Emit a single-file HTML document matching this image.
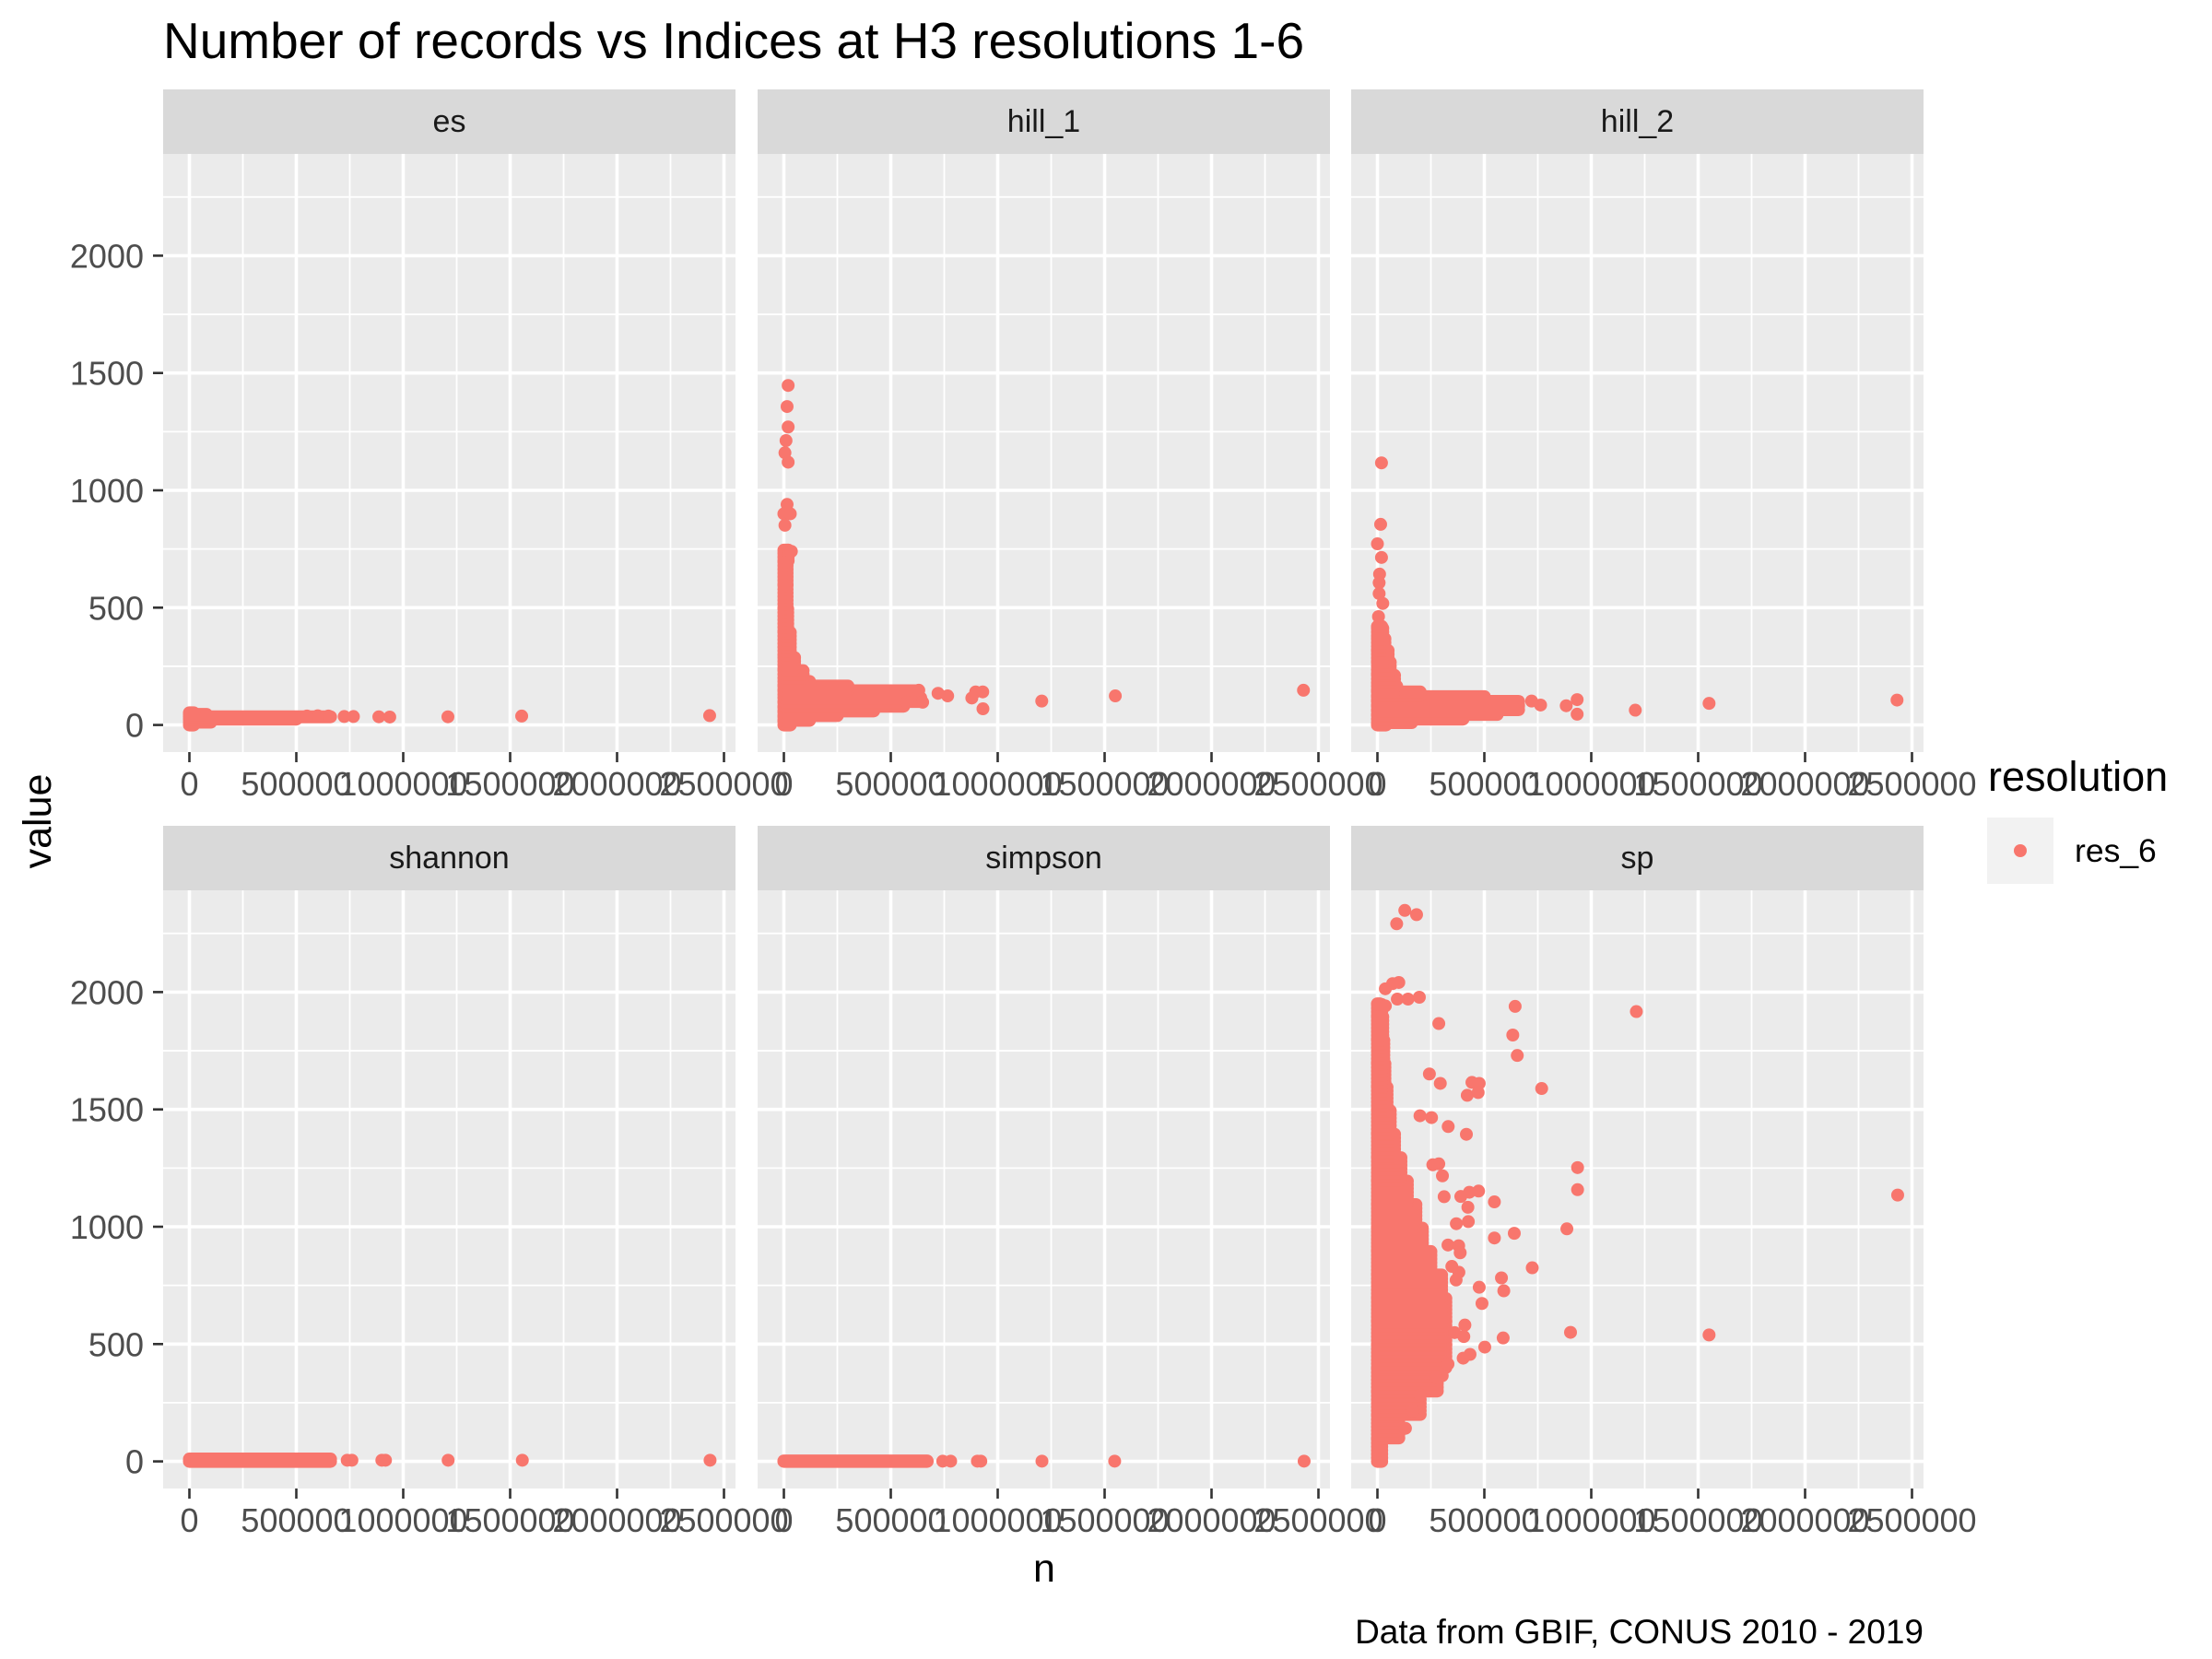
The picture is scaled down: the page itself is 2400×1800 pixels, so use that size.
<!DOCTYPE html>
<html><head><meta charset="utf-8"><style>
html,body{margin:0;padding:0;background:#fff}
svg{display:block}
text{font-family:"Liberation Sans",Arial,sans-serif}
</style></head><body>
<svg id="chart" width="2400" height="1800" viewBox="0 0 2400 1800" xmlns="http://www.w3.org/2000/svg">
<rect x="0" y="0" width="2400" height="1800" fill="#fff"/>
<text x="177" y="63" font-size="55" fill="#000">Number of records vs Indices at H3 resolutions 1-6</text>
<text transform="translate(55,891) rotate(-90)" text-anchor="middle" font-size="43" fill="#000">value</text>
<text x="1133" y="1716" text-anchor="middle" font-size="43" fill="#000">n</text>
<text x="2087" y="1783" text-anchor="end" font-size="37" fill="#000">Data from GBIF, CONUS 2010 - 2019</text>
<g>
<text x="2157" y="858" font-size="45" fill="#000">resolution</text>
<rect x="2156" y="887" width="72" height="72" fill="#f2f2f2"/>
<circle cx="2192" cy="923" r="7" fill="#f8766d"/>
<text x="2251" y="935" font-size="35.5" fill="#000">res_6</text>
</g>
<g id="panels"></g>
</svg>
<script>
// ---- data ----
const panelNames = ["es","hill_1","hill_2","shannon","simpson","sp"];
const xTicks = [0,500000,1000000,1500000,2000000,2500000];
const xTickLabels = ["0","500000","1000000","1500000","2000000","2500000"];
const yTicks = [0,500,1000,1500,2000];
const yTickLabels = ["0","500","1000","1500","2000"];
// dense bands: [value, minN, maxN]
const esRows = [[0,0,20000],[12,0,100000],[25,0,500000],[35,0,660000],[45,0,80000],[52,0,20000]];
const esPoints = [[724000,36],[767000,36],[886000,35],[937000,34],[1209000,35],[1554000,38],[2433000,40],[650000,38],[600000,39],[550000,38]];
const hill1Rows = [[0,0,30000],[20,0,120000],[40,0,250000],[60,0,420000],[80,0,560000],[100,0,640000],[130,0,620000],[150,0,300000],[170,0,120000],[200,0,90000],[240,0,50000],[300,0,30000],[400,0,18000],[500,0,15000],[600,0,15000],[700,0,20000],[745,0,20000]];
const hill1Points = [[20000,1447],[15000,1357],[20000,1270],[10000,1212],[5000,1160],[20000,1120],[15000,940],[0,900],[30000,900],[5000,851],[20000,745],[35000,740],[721000,135],[766000,124],[879000,115],[897000,141],[930000,141],[931000,69],[1206000,102],[1550000,124],[2430000,148],[631000,148],[649000,97],[576000,97]];
const hill2Rows = [[0,0,40000],[10,0,160000],[25,0,400000],[45,0,560000],[65,0,660000],[85,0,660000],[105,0,500000],[125,0,200000],[150,0,90000],[180,0,80000],[220,0,60000],[270,0,50000],[320,0,35000],[380,0,25000],[420,0,20000]];
const hill2Points = [[19000,1117],[15000,855],[0,772],[19000,714],[10000,643],[8000,606],[8000,560],[25000,518],[5000,462],[721000,102],[763000,85],[883000,82],[934000,108],[934000,46],[1206000,63],[1551000,92],[2430000,106]];
const shannonRows = [[0,0,660000],[10,0,660000]];
const shannonPoints = [[738000,5],[760000,5],[900000,5],[917000,5],[1210000,5],[1557000,5],[2435000,5]];
const simpsonRows = [[0,0,670000],[2,0,670000]];
const simpsonPoints = [[743000,1],[780000,1],[905000,1],[921000,1],[1207000,1],[1547000,1],[2433000,1]];
const spRows = [[0,0,20000],[100,0,100000],[200,0,200000],[300,0,280000],[400,0,320000],[500,0,320000],[600,0,320000],[700,0,300000],[800,0,250000],[900,0,210000],[1000,0,180000],[1100,0,140000],[1200,0,110000],[1300,0,80000],[1400,0,60000],[1500,0,45000],[1600,0,35000],[1700,0,30000],[1800,0,25000],[1900,0,20000],[1950,0,10000]];
const spPoints = [[2433000,1135],[1551000,539],[1211000,1917],[903000,550],[936000,1252],[936000,1158],[886000,991],[768000,1589],[724000,825],[644000,1939],[633000,1817],[654000,1730],[640000,972],[547000,952],[547000,1106],[588000,526],[591000,727],[580000,782],[489000,673],[476000,742],[502000,487],[401000,440],[433000,456],[294000,1611],[243000,1651],[287000,1866],[442000,1615],[476000,1611],[420000,1560],[471000,1572],[416000,1394],[331000,1427],[199000,1473],[253000,1465],[196000,1978],[143000,1970],[93000,1970],[128000,2348],[183000,2330],[90000,2291],[71000,2036],[100000,2041],[37000,2014],[4000,1948],[37000,1941],[287000,1268],[259000,1264],[304000,1217],[473000,1152],[430000,1147],[390000,1129],[312000,1128],[423000,1083],[425000,1022],[369000,1013],[330000,922],[380000,919],[387000,889],[348000,831],[381000,806],[368000,773],[409000,581],[404000,532],[361000,549],[330000,415],[303000,365],[275000,357],[200000,282],[165000,216],[131000,141]];
const panelRows = [esRows,hill1Rows,hill2Rows,shannonRows,simpsonRows,spRows];
const panelPoints = [esPoints,hill1Points,hill2Points,shannonPoints,simpsonPoints,spPoints];

// ---- layout ----
const NS = "http://www.w3.org/2000/svg";
const colX = [177,822,1466], PW = 621;
const rowTop = [167,966], PH = 649;
const COLOR = "#f8766d";
function mk(tag, attrs, parent){const e=document.createElementNS(NS,tag);for(const k in attrs)e.setAttribute(k,attrs[k]);parent.appendChild(e);return e;}
const root = document.getElementById("panels");
const defs = mk("defs",{},root);

panelNames.forEach((name,i)=>{
  const r = Math.floor(i/3), c = i%3;
  const L = colX[c], T = rowTop[r];
  const x0 = L + 28.5, y0 = T + PH - 29.4;
  const px = n => x0 + n/500000*116;
  const py = v => y0 - v/500*127.3;
  const g = mk("g",{},root);
  
  
  const strip = mk("rect",{x:L,y:T-70,width:PW,height:70,fill:"#d9d9d9"},g);
  
  
  const st = mk("text",{x:L+PW/2,y:T-24,"text-anchor":"middle","font-size":34,fill:"#1a1a1a"},g);
  st.textContent = name;
  
  
  const bg = mk("rect",{x:L,y:T,width:PW,height:PH,fill:"#ebebeb"},g);
  
  
  for(let v=250; v<2500; v+=500){const y=py(v); if(y>T&&y<T+PH) mk("line",{x1:L,x2:L+PW,y1:y,y2:y,stroke:"#fff","stroke-width":1.8},g);}
  for(let n=250000; n<2600000; n+=500000){const x=px(n); if(x>L&&x<L+PW) mk("line",{x1:x,x2:x,y1:T,y2:T+PH,stroke:"#fff","stroke-width":1.8},g);}
  yTicks.forEach(v=>{const y=py(v); mk("line",{x1:L,x2:L+PW,y1:y,y2:y,stroke:"#fff","stroke-width":3.6},g);});
  xTicks.forEach(n=>{const x=px(n); mk("line",{x1:x,x2:x,y1:T,y2:T+PH,stroke:"#fff","stroke-width":3.6},g);});
  const cp = mk("clipPath",{id:"clip"+i},defs);
  mk("rect",{x:L,y:T,width:PW,height:PH},cp);
  const marks = mk("g",{"clip-path":"url(#clip"+i+")"},g);
  
  
  const rows = panelRows[i];
  rows.forEach((row,k)=>{
    const yA = py(row[0]);
    const yB = k<rows.length-1 ? py(rows[k+1][0]) : yA;
    for(let y=yA; y>=yB-0.01; y-=4){
      const ln = mk("line",{x1:px(row[1]),x2:px(row[2]),y1:y,y2:y,stroke:COLOR,"stroke-width":14,"stroke-linecap":"round"},marks);
      
      
    }
  });
  panelPoints[i].forEach(p=>{
    const ci = mk("circle",{cx:px(p[0]),cy:py(p[1]),r:7,fill:COLOR},marks);
    
    
  });
  const ax = mk("g",{},g);
  
  
  xTicks.forEach((n,k)=>{
    const x=px(n);
    mk("line",{x1:x,x2:x,y1:T+PH,y2:T+PH+11,stroke:"#333","stroke-width":2.6},ax);
    const t = mk("text",{x:x,y:T+PH+47,"text-anchor":"middle","font-size":36,fill:"#4d4d4d"},ax);
    t.textContent = xTickLabels[k];
    
    
  });
  if(c===0){
    const ay = mk("g",{},g);
    
    
    yTicks.forEach((v,k)=>{
      const y=py(v);
      mk("line",{x1:L-11,x2:L,y1:y,y2:y,stroke:"#333","stroke-width":2.6},ay);
      const t = mk("text",{x:L-21,y:y+13,"text-anchor":"end","font-size":36,fill:"#4d4d4d"},ay);
      t.textContent = yTickLabels[k];
      
      
    });
  }
});
</script>
</body></html>
